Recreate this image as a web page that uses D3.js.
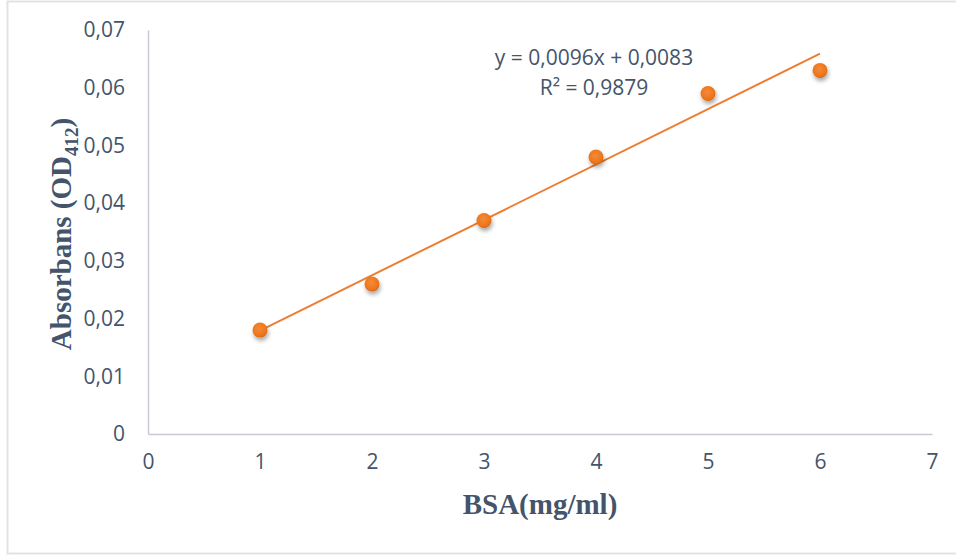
<!DOCTYPE html>
<html>
<head>
<meta charset="utf-8">
<script src="https://cdn.jsdelivr.net/npm/d3@7"></script>
<style>
  body { margin: 0; background: #fff; }
  svg { display: block; }
</style>
</head>
<body>
<div id="chart"></div>
<script>
// BSA standard curve
var bsaConc = [1, 2, 3, 4, 5, 6];
var absorbance = [0.018, 0.026, 0.037, 0.048, 0.059, 0.063];
var xTicks = [0, 1, 2, 3, 4, 5, 6, 7];
var yTicks = [0, 0.01, 0.02, 0.03, 0.04, 0.05, 0.06, 0.07];
var slope = 0.0096, intercept = 0.0083;
var equationText = "y = 0,0096x + 0,0083";
var r2Text = "R² = 0,9879";

var width = 956, height = 556;
var margin = { left: 148, right: 24, top: 30, bottom: 122 };

var svg = d3.select("#chart").append("svg")
    .attr("width", width)
    .attr("height", height);

var defs = svg.append("defs");
var shadow = defs.append("filter").attr("id", "shadow")
    .attr("x", "-50%").attr("y", "-50%").attr("width", "200%").attr("height", "200%");
shadow.append("feDropShadow")
    .attr("dx", 1).attr("dy", 3).attr("stdDeviation", 2)
    .attr("flood-color", "#000").attr("flood-opacity", 0.35);

var grad = defs.append("radialGradient").attr("id", "dotGrad")
    .attr("cx", "45%").attr("cy", "40%").attr("r", "60%");
grad.append("stop").attr("offset", "0%").attr("stop-color", "#f58a3a");
grad.append("stop").attr("offset", "80%").attr("stop-color", "#ec7519");
grad.append("stop").attr("offset", "100%").attr("stop-color", "#d9650f");

// chart border
svg.append("rect")
    .attr("x", 7.5).attr("y", 1.5)
    .attr("width", 960).attr("height", 552)
    .attr("fill", "none")
    .attr("stroke", "#dfe3e8")
    .attr("stroke-width", 2);

var x = d3.scaleLinear().domain([0, 7]).range([margin.left, width - margin.right]);
var y = d3.scaleLinear().domain([0, 0.07]).range([height - margin.bottom, margin.top]);

var fmt = function (d) { return d === 0 ? "0" : d3.format(".2f")(d).replace(".", ","); };

var axisColor = "#c5cad5";
var textColor = "#44546a";
var labelFont = "'Open Sans', sans-serif";

// y axis
var yAxis = svg.append("g")
    .attr("transform", "translate(" + x(0) + ",0)")
    .call(d3.axisLeft(y).tickValues(yTicks).tickSize(0).tickPadding(23).tickFormat(fmt));
yAxis.select(".domain").attr("stroke", axisColor).attr("stroke-width", 1.5);
yAxis.selectAll("text")
    .attr("fill", textColor)
    .style("font-family", labelFont)
    .style("font-size", "21px");

// x axis
var xAxis = svg.append("g")
    .attr("transform", "translate(0," + y(0) + ")")
    .call(d3.axisBottom(x).tickValues(xTicks).tickSize(0).tickPadding(20).tickFormat(d3.format("d")));
xAxis.select(".domain").attr("stroke", axisColor).attr("stroke-width", 1.5);
xAxis.selectAll("text")
    .attr("fill", textColor)
    .style("font-family", labelFont)
    .style("font-size", "21px");

// trend line
var lineData = [bsaConc[0], bsaConc[bsaConc.length - 1]].map(function (v) {
    return { x: v, y: slope * v + intercept };
});
svg.append("path")
    .datum(lineData)
    .attr("fill", "none")
    .attr("stroke", "#ed7d31")
    .attr("stroke-width", 2)
    .attr("d", d3.line().x(function (d) { return x(d.x); }).y(function (d) { return y(d.y); }));

// points
svg.selectAll(".dot")
    .data(bsaConc.map(function (c, i) { return { x: c, y: absorbance[i] }; }))
    .enter()
    .append("circle")
    .attr("class", "dot")
    .attr("cx", function (d) { return x(d.x); })
    .attr("cy", function (d) { return y(d.y); })
    .attr("r", 7.5)
    .attr("fill", "url(#dotGrad)")
    .attr("filter", "url(#shadow)");

// equation label
var eq = svg.append("text")
    .attr("text-anchor", "middle")
    .attr("fill", textColor)
    .style("font-family", labelFont)
    .style("font-size", "21px");
eq.append("tspan").attr("x", 594).attr("y", 65).text(equationText);
eq.append("tspan").attr("x", 594).attr("y", 95).text(r2Text);

// axis titles
svg.append("text")
    .attr("x", (x(0) + x(7)) / 2)
    .attr("y", 514)
    .attr("text-anchor", "middle")
    .attr("fill", textColor)
    .style("font-family", "'Liberation Serif', 'Times New Roman', serif")
    .style("font-weight", "bold")
    .style("font-size", "29px")
    .text("BSA(mg/ml)");

var yTitle = svg.append("text")
    .attr("transform", "translate(71," + 234 + ") rotate(-90)")
    .attr("text-anchor", "middle")
    .attr("fill", textColor)
    .style("font-family", "'Liberation Serif', 'Times New Roman', serif")
    .style("font-weight", "bold")
    .style("font-size", "29px");
yTitle.append("tspan").text("Absorbans (OD");
yTitle.append("tspan").attr("dy", 7).style("font-size", "19px").text("412");
yTitle.append("tspan").attr("dy", -7).text(")");
</script>
</body>
</html>
